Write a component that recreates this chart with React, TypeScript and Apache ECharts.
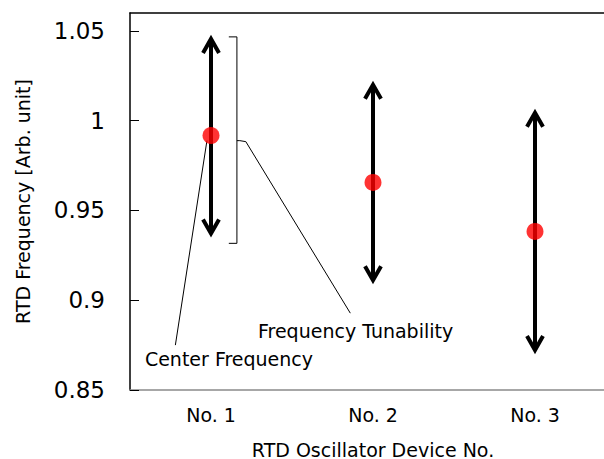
import React, { useEffect, useRef } from "react";
import * as echarts from "echarts";

const categories = ["No. 1", "No. 2", "No. 3"];
const centerValues = [0.9917, 0.9656, 0.9383];
const upperValues = [1.0478, 1.0222, 1.0067];
const lowerValues = [0.935, 0.9089, 0.87];
const yTickValues = [0.85, 0.9, 0.95, 1, 1.05];

// annotation values (data space)
const bracketTop = 1.0467;
const bracketBottom = 0.9317;
const bracketMid = 0.9889;
const tunabilityLeaderEnd = 0.8928;
const tunabilityLabelValue = 0.8828;
const centerLeaderEnd = 0.875;
const centerLabelValue = 0.8672;

const FONT = "DejaVu Sans";

export default function App() {
  const ref = useRef<HTMLDivElement>(null);
  useEffect(() => {
    document.body.style.margin = "0";
    const chart = echarts.init(ref.current!, null, { renderer: "svg" });
    const arrowData = categories.map((_, i) => [i, lowerValues[i], upperValues[i]]);
    chart.setOption({
      animation: false,
      grid: { left: 130, top: 13, width: 486, height: 377, outerBoundsMode: "none", containLabel: false },
      xAxis: [
        {
          type: "category",
          data: categories,
          position: "bottom",
          axisLine: { lineStyle: { color: "#8a8a8a", width: 1.5 } },
          axisTick: { show: false },
          axisLabel: { color: "#000", fontSize: 19, fontFamily: FONT, margin: 15 },
          name: "RTD Oscillator Device No.",
          nameLocation: "middle",
          nameGap: 50,
          nameTextStyle: { color: "#000", fontSize: 19, fontFamily: FONT },
        },
        {
          type: "category",
          data: categories,
          position: "top",
          axisLine: { lineStyle: { color: "#000", width: 1.5 } },
          axisTick: { show: false },
          axisLabel: { show: false },
        },
      ],
      yAxis: {
        type: "value",
        min: 0.85,
        max: 1.06,
        interval: 0.05,
        splitLine: { show: false },
        axisLine: { show: true, lineStyle: { color: "#000", width: 1.5 } },
        axisTick: {
          show: true,
          inside: true,
          length: 9,
          customValues: yTickValues,
          lineStyle: { color: "#000", width: 1 },
        },
        axisLabel: {
          color: "#000",
          fontSize: 23,
          fontFamily: FONT,
          margin: 25,
          customValues: yTickValues,
        },
        name: "RTD Frequency [Arb. unit]",
        nameLocation: "middle",
        nameGap: 98,
        nameTextStyle: { color: "#000", fontSize: 19, fontFamily: FONT },
      },
      series: [
        {
          type: "custom",
          data: arrowData,
          clip: false,
          z: 2,
          renderItem: (params: any, api: any) => {
            const x = api.value(0);
            const lo = api.coord([x, api.value(1)]);
            const hi = api.coord([x, api.value(2)]);
            const hw = 8;
            const hh = 14;
            const st = { stroke: "#000", lineWidth: 4, fill: null, lineJoin: "miter", lineCap: "butt" };
            const topApex = hi[1] + 4;
            const botApex = lo[1] - 4;
            return {
              type: "group",
              children: [
                { type: "line", shape: { x1: hi[0], y1: topApex + 2, x2: lo[0], y2: botApex - 2 }, style: st },
                {
                  type: "polyline",
                  shape: { points: [[hi[0] - hw, topApex + hh], [hi[0], topApex], [hi[0] + hw, topApex + hh]] },
                  style: st,
                },
                {
                  type: "polyline",
                  shape: { points: [[lo[0] - hw, botApex - hh], [lo[0], botApex], [lo[0] + hw, botApex - hh]] },
                  style: st,
                },
              ],
            };
          },
        },
        {
          type: "custom",
          data: [[0, bracketMid]],
          clip: false,
          z: 1,
          renderItem: (params: any, api: any) => {
            const band = api.size([1, 0])[0];
            const c = api.coord([0, bracketMid]);
            const cx = c[0];
            const yTop = api.coord([0, bracketTop])[1];
            const yBot = api.coord([0, bracketBottom])[1];
            const yMid = c[1];
            const bx = cx + band * 0.16;
            const tickL = cx + band * 0.11;
            const tickR = cx + band * 0.215;
            const tEnd = [cx + band * 0.86, api.coord([0, tunabilityLeaderEnd])[1]];
            const cStart = [cx - band * 0.025, api.coord([0, centerValues[0]])[1] + 5];
            const cEnd = [cx - band * 0.22, api.coord([0, centerLeaderEnd])[1]];
            const thin = { stroke: "#000", lineWidth: 1, fill: null };
            return {
              type: "group",
              children: [
                {
                  type: "polyline",
                  shape: { points: [[tickL, yTop], [bx, yTop], [bx, yBot], [tickL, yBot]] },
                  style: thin,
                },
                {
                  type: "polyline",
                  shape: { points: [[bx, yMid], [tickR - 6, yMid], [tickR, yMid + 1], tEnd] },
                  style: thin,
                },
                { type: "line", shape: { x1: cStart[0], y1: cStart[1], x2: cEnd[0], y2: cEnd[1] }, style: thin },
                {
                  type: "text",
                  x: cx + band * 0.29,
                  y: api.coord([0, tunabilityLabelValue])[1],
                  style: {
                    text: "Frequency Tunability",
                    fill: "#000",
                    font: `19px '${FONT}'`,
                    align: "left",
                    verticalAlign: "middle",
                  },
                },
                {
                  type: "text",
                  x: cx - band * 0.408,
                  y: api.coord([0, centerLabelValue])[1],
                  style: {
                    text: "Center Frequency",
                    fill: "#000",
                    font: `19px '${FONT}'`,
                    align: "left",
                    verticalAlign: "middle",
                  },
                },
              ],
            };
          },
        },
        {
          type: "scatter",
          data: centerValues,
          symbol: "circle",
          symbolSize: 17,
          itemStyle: { color: "#ff0000" },
          z: 3,
        },
      ],
    });
    return () => chart.dispose();
  }, []);
  return <div ref={ref} style={{ width: 604, height: 459, overflow: "hidden" }} />;
}
